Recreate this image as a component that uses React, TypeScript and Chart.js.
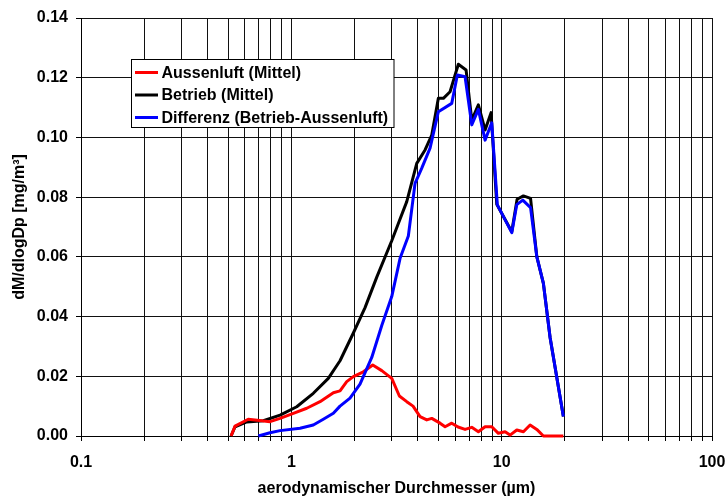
import React, { useEffect, useRef } from "react";
import { Chart, registerables } from "chart.js";

Chart.register(...registerables);

// ---- data ----
const seriesLabels = ["Aussenluft (Mittel)", "Betrieb (Mittel)", "Differenz (Betrieb-Aussenluft)"];
const seriesColors = ["#ff0000", "#000000", "#0000ff"];

const aussenX = [0.517, 0.540, 0.624, 0.723, 0.792, 0.884, 1.022, 1.184, 1.369, 1.584, 1.704, 1.834, 1.972, 2.200, 2.438, 2.691, 3.002, 3.263, 3.538, 3.790, 4.093, 4.404, 4.652, 5.094, 5.382, 5.790, 6.204, 6.699, 7.208, 7.749, 8.339, 8.973, 9.645, 10.38, 10.96, 11.80, 12.69, 13.65, 14.69, 15.79, 19.65];
const aussenY = [0, 0.0033, 0.0056, 0.0051, 0.0048, 0.0059, 0.0076, 0.0093, 0.0115, 0.0145, 0.0151, 0.0182, 0.0199, 0.0215, 0.0238, 0.0219, 0.0193, 0.0134, 0.0115, 0.0100, 0.0065, 0.0054, 0.0059, 0.0043, 0.0031, 0.0043, 0.0030, 0.0022, 0.0029, 0.0014, 0.0031, 0.0031, 0.0009, 0.0014, 0.0003, 0.0020, 0.0014, 0.0037, 0.0022, 0, 0];

const betriebX = [0.517, 0.540, 0.614, 0.736, 0.884, 1.061, 1.272, 1.499, 1.704, 1.972, 2.241, 2.548, 3.002, 3.227, 3.538, 3.947, 4.323, 4.652, 5.000, 5.283, 5.684, 5.938, 6.224, 6.773, 7.208, 7.749, 8.339, 8.905, 9.478, 11.17, 11.84, 12.69, 13.72, 14.69, 15.79, 16.99, 19.65];
const betriebY = [0, 0.0031, 0.0047, 0.0051, 0.0070, 0.0098, 0.0143, 0.0193, 0.0252, 0.0345, 0.0430, 0.0532, 0.0654, 0.0712, 0.0785, 0.0913, 0.0958, 0.1008, 0.1131, 0.1131, 0.1153, 0.1198, 0.1245, 0.1226, 0.1058, 0.1109, 0.1025, 0.1083, 0.0776, 0.0684, 0.0793, 0.0804, 0.0796, 0.0601, 0.0511, 0.0330, 0.0065];

const diffX = [0.697, 0.792, 0.884, 1.100, 1.272, 1.419, 1.584, 1.704, 1.901, 2.121, 2.412, 2.691, 3.002, 3.288, 3.600, 3.874, 4.170, 4.566, 5.000, 5.790, 6.156, 6.699, 7.208, 7.749, 8.339, 8.973, 9.539, 11.17, 11.80, 12.60, 13.72, 14.69, 15.79, 16.99, 19.65];
const diffY = [0, 0.0011, 0.0018, 0.0026, 0.0037, 0.0056, 0.0076, 0.0100, 0.0127, 0.0174, 0.0263, 0.0370, 0.0467, 0.0595, 0.0670, 0.0846, 0.0897, 0.0964, 0.1086, 0.1114, 0.1209, 0.1203, 0.1042, 0.1094, 0.0991, 0.1049, 0.0774, 0.0681, 0.0775, 0.0790, 0.0765, 0.0601, 0.0511, 0.0330, 0.0065];

const xDecades = [0.1, 1, 10];
const xMax = 100;
const xSignificands = [1, 2, 3, 4, 5, 6, 7, 8, 9];
const yMin = 0;
const yMax = 0.14;
const yStep = 0.02;

const xTitle = "aerodynamischer Durchmesser (µm)";
const yTitle = "dM/dlogDp [mg/m³]";

const FONT_FAMILY = "'Liberation Sans', Arial, Helvetica, sans-serif";

const toPoints = (xs: number[], ys: number[]) => xs.map((x, i) => ({ x, y: ys[i] }));

const legendBoxPlugin = {
  id: "legendBox",
  afterDatasetsDraw(chart: any) {
    const ctx = chart.ctx;
    ctx.save();
    const bx = 131.5, by = 59.5, bw = 262.5, bh = 68;
    ctx.fillStyle = "#ffffff";
    ctx.fillRect(bx, by, bw, bh);
    ctx.strokeStyle = "#000000";
    ctx.lineWidth = 1;
    ctx.strokeRect(bx, by, bw, bh);
    ctx.font = `bold 16px ${FONT_FAMILY}`;
    ctx.textBaseline = "middle";
    ctx.textAlign = "left";
    chart.data.datasets.forEach((ds: any, i: number) => {
      const y = 72.5 + i * 22.5;
      ctx.strokeStyle = ds.borderColor;
      ctx.lineWidth = 3;
      ctx.beginPath();
      ctx.moveTo(135, y);
      ctx.lineTo(158, y);
      ctx.stroke();
      ctx.fillStyle = "#000000";
      ctx.fillText(ds.label, 161.5, y + 1);
    });
    ctx.restore();
  },
};

export default function App() {
  const canvasRef = useRef<HTMLCanvasElement | null>(null);

  useEffect(() => {
    if (!canvasRef.current) return;
    const xs = [aussenX, betriebX, diffX];
    const ys = [aussenY, betriebY, diffY];
    const orders = [1, 2, 0];
    const xGrid: number[] = [];
    xDecades.forEach((d) => xSignificands.forEach((s) => xGrid.push(Number((d * s).toPrecision(3)))));
    xGrid.push(xMax);

    const chart = new Chart(canvasRef.current, {
      type: "line",
      data: {
        datasets: seriesLabels.map((label, i) => ({
          label,
          data: toPoints(xs[i], ys[i]),
          borderColor: seriesColors[i],
          backgroundColor: seriesColors[i],
          borderWidth: 3,
          pointRadius: 0,
          tension: 0,
          fill: false,
          borderJoinStyle: "round" as const,
          clip: false as any,
          order: orders[i],
        })),
      },
      options: {
        responsive: false,
        animation: false,
        devicePixelRatio: 1,
        layout: { padding: { top: 18, right: 0, left: 0, bottom: 0 } },
        plugins: {
          legend: { display: false },
          tooltip: { enabled: false },
        },
        scales: {
          x: {
            type: "logarithmic",
            min: xDecades[0],
            max: xMax,
            afterBuildTicks: (scale: any) => {
              scale.ticks = xGrid.map((v) => ({ value: v }));
            },
            afterFit: (scale: any) => {
              scale.height = 62;
              scale.paddingLeft = 0;
              scale.paddingRight = 13;
            },
            ticks: {
              autoSkip: false,
              maxRotation: 0,
              minRotation: 0,
              padding: 12,
              color: "#000",
              font: { family: FONT_FAMILY, size: 16, weight: "bold" },
              callback: (value: any) => {
                const v = Number(value);
                const l = Math.log10(v);
                if (Math.abs(l - Math.round(l)) < 1e-6) return String(Math.round(v * 10) / 10);
                return "";
              },
            },
            grid: {
              color: "#111",
              lineWidth: 1,
              drawTicks: true,
              tickLength: 5,
              tickColor: "#000",
            },
            border: { color: "#000", width: 1 },
            title: {
              display: true,
              text: xTitle,
              color: "#000",
              font: { family: FONT_FAMILY, size: 16, weight: "bold" },
              padding: { top: 0, bottom: 0 },
            },
          },
          y: {
            type: "linear",
            min: yMin,
            max: yMax,
            afterFit: (scale: any) => {
              scale.width = 81;
              scale.paddingTop = 0;
              scale.paddingBottom = 0;
            },
            ticks: {
              stepSize: yStep,
              padding: 8,
              color: "#000",
              font: { family: FONT_FAMILY, size: 16, weight: "bold" },
              callback: (value: any) => Number(value).toFixed(2),
            },
            grid: {
              color: "#111",
              lineWidth: 1,
              drawTicks: true,
              tickLength: 5,
              tickColor: "#000",
            },
            border: { color: "#000", width: 1 },
            title: {
              display: true,
              text: yTitle,
              color: "#000",
              font: { family: FONT_FAMILY, size: 16, weight: "bold" },
              padding: { top: 10, bottom: 0 },
            },
          },
        },
      },
      plugins: [legendBoxPlugin],
    } as any);

    return () => chart.destroy();
  }, []);

  return (
    <div style={{ position: "absolute", left: 0, top: 0, width: 725, height: 498, background: "#fff" }}>
      <canvas ref={canvasRef} width={725} height={498} style={{ width: 725, height: 498, display: "block" }} />
    </div>
  );
}
